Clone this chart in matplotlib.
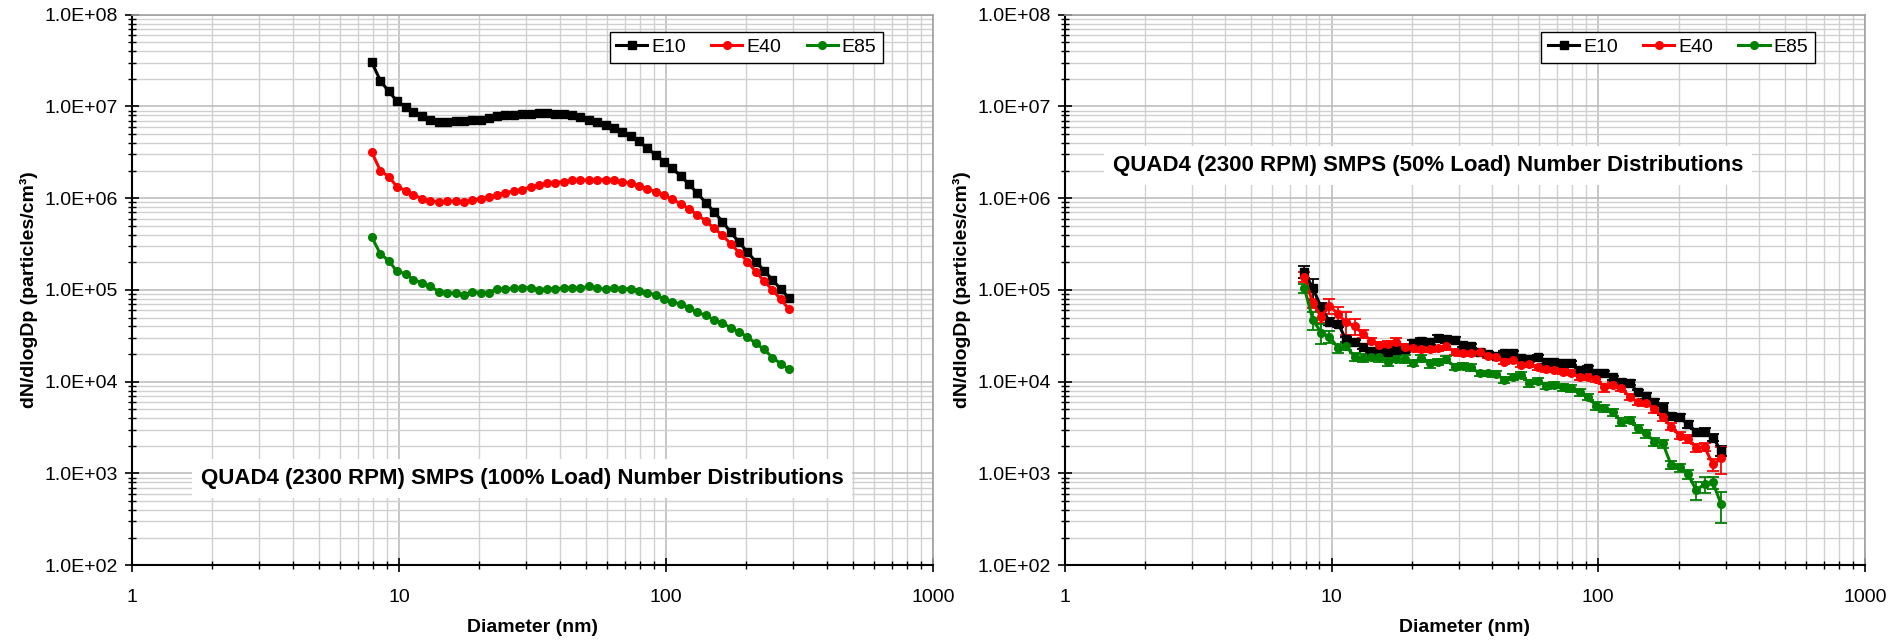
import matplotlib
matplotlib.use('Agg')
import matplotlib.pyplot as plt
from matplotlib.lines import Line2D
from matplotlib.ticker import FixedLocator, FuncFormatter, NullFormatter
import numpy as np

plt.rcParams['font.family'] = ['Liberation Sans', 'DejaVu Sans']

# SMPS channel midpoints (nm), 32 channels per decade
diam = [7.91, 8.51, 9.14, 9.82, 10.6, 11.3, 12.2, 13.1, 14.1, 15.1,
        16.3, 17.5, 18.8, 20.2, 21.7, 23.3, 25.0, 26.9, 28.9, 31.1,
        33.4, 35.9, 38.5, 41.4, 44.5, 47.8, 51.4, 55.2, 59.4, 63.8,
        68.5, 73.7, 79.1, 85.1, 91.4, 98.2, 105.5, 113.4, 121.9, 131.0,
        140.7, 151.2, 162.5, 174.7, 187.7, 201.7, 216.7, 232.9, 250.3, 269.0,
        289.0]

# 100% load
e10_full = [3.02e7, 1.91e7, 1.46e7, 1.15e7, 9.76e6, 8.6e6, 7.8e6, 7.15e6, 6.75e6, 6.8e6,
            6.92e6, 6.98e6, 7.04e6, 7.15e6, 7.46e6, 7.78e6, 7.98e6, 8.11e6, 8.25e6, 8.32e6,
            8.46e6, 8.39e6, 8.32e6, 8.18e6, 7.98e6, 7.65e6, 7.15e6, 6.69e6, 6.3e6, 5.85e6,
            5.29e6, 4.71e6, 4.15e6, 3.51e6, 2.97e6, 2.51e6, 2.12e6, 1.75e6, 1.42e6, 1.13e6,
            8.97e5, 7.1e5, 5.56e5, 4.25e5, 3.31e5, 2.58e5, 2.04e5, 1.62e5, 1.29e5, 1.02e5,
            8.1e4]
e40_full = [3.15e6, 2.0e6, 1.72e6, 1.34e6, 1.21e6, 1.09e6, 9.84e5, 9.35e5, 9.12e5, 9.27e5,
            9.27e5, 9.2e5, 9.5e5, 9.9e5, 1.04e6, 1.09e6, 1.15e6, 1.19e6, 1.24e6, 1.32e6,
            1.39e6, 1.46e6, 1.48e6, 1.52e6, 1.56e6, 1.57e6, 1.58e6, 1.58e6, 1.58e6, 1.56e6,
            1.52e6, 1.46e6, 1.37e6, 1.27e6, 1.18e6, 1.07e6, 9.75e5, 8.67e5, 7.65e5, 6.58e5,
            5.66e5, 4.71e5, 3.95e5, 3.18e5, 2.55e5, 2.04e5, 1.58e5, 1.25e5, 1.0e5, 7.9e4,
            6.15e4]
e85_full = [3.75e5, 2.47e5, 2.09e5, 1.59e5, 1.5e5, 1.29e5, 1.2e5, 1.09e5, 9.6e4, 9.35e4,
            9.2e4, 8.82e4, 9.5e4, 9.35e4, 9.35e4, 1.03e5, 1.02e5, 1.05e5, 1.06e5, 1.06e5,
            1.0e5, 1.03e5, 1.03e5, 1.05e5, 1.06e5, 1.05e5, 1.09e5, 1.04e5, 1.02e5, 1.06e5,
            1.03e5, 1.03e5, 9.84e4, 9.35e4, 8.82e4, 7.98e4, 7.46e4, 6.98e4, 6.41e4, 5.7e4,
            5.29e4, 4.71e4, 4.4e4, 3.85e4, 3.5e4, 3.06e4, 2.62e4, 2.25e4, 1.83e4, 1.57e4,
            1.36e4]

# 50% load
e10_half = [1.58e5, 1.04e5, 6.47e4, 4.52e4, 4.26e4, 2.9e4, 2.69e4, 2.41e4, 2.14e4, 2.12e4,
            2.09e4, 2.21e4, 2.25e4, 2.62e4, 2.8e4, 2.71e4, 2.97e4, 2.9e4, 2.85e4, 2.51e4,
            2.47e4, 2.12e4, 2.0e4, 1.92e4, 2.04e4, 2.07e4, 1.8e4, 1.75e4, 1.84e4, 1.65e4,
            1.65e4, 1.58e4, 1.58e4, 1.34e4, 1.4e4, 1.25e4, 1.23e4, 1.11e4, 1.0e4, 9.75e3,
            7.65e3, 6.98e3, 5.96e3, 5.12e3, 4.22e3, 4.08e3, 3.43e3, 2.8e3, 2.85e3, 2.45e3,
            1.77e3]
e40_half = [1.4e5, 7.16e4, 5.12e4, 6.69e4, 5.43e4, 4.44e4, 4.05e4, 3.31e4, 2.8e4, 2.51e4,
            2.58e4, 2.69e4, 2.41e4, 2.31e4, 2.27e4, 2.27e4, 2.31e4, 2.45e4, 2.12e4, 2.07e4,
            2.04e4, 2.12e4, 1.92e4, 1.87e4, 1.65e4, 1.72e4, 1.52e4, 1.55e4, 1.43e4, 1.37e4,
            1.34e4, 1.28e4, 1.25e4, 1.11e4, 1.13e4, 1.06e4, 8.67e3, 9.2e3, 8.46e3, 6.86e3,
            5.96e3, 5.9e3, 4.99e3, 4.08e3, 3.23e3, 2.58e3, 2.37e3, 1.91e3, 1.95e3, 1.25e3,
            1.46e3]
e85_half = [1.04e5, 4.71e4, 3.43e4, 3.1e4, 2.31e4, 2.45e4, 1.87e4, 1.8e4, 1.87e4, 1.84e4,
            1.65e4, 1.77e4, 1.77e4, 1.61e4, 1.8e4, 1.58e4, 1.65e4, 1.75e4, 1.46e4, 1.48e4,
            1.43e4, 1.23e4, 1.23e4, 1.21e4, 1.04e4, 1.13e4, 1.18e4, 9.6e3, 1.02e4, 9.04e3,
            9.2e3, 8.67e3, 8.46e3, 7.65e3, 6.86e3, 5.43e3, 5.12e3, 4.62e3, 3.66e3, 3.82e3,
            3.1e3, 2.73e3, 2.21e3, 2.12e3, 1.23e3, 1.16e3, 9.84e2, 6.58e2, 7.65e2, 7.98e2,
            4.59e2]

# relative standard deviation of the 50% load repeats
e10_half_rsd = [0.14, 0.25, 0.10, 0.08, 0.07, 0.06, 0.06, 0.06, 0.05, 0.05,
                0.05, 0.06, 0.06, 0.08, 0.08, 0.07, 0.08, 0.08, 0.07, 0.06,
                0.05, 0.05, 0.05, 0.05, 0.05, 0.05, 0.05, 0.05, 0.05, 0.05,
                0.05, 0.05, 0.05, 0.06, 0.05, 0.05, 0.05, 0.05, 0.06, 0.06,
                0.07, 0.07, 0.08, 0.15, 0.08, 0.08, 0.08, 0.08, 0.09, 0.09,
                0.12]
e40_half_rsd = [0.12, 0.12, 0.15, 0.18, 0.21, 0.28, 0.20, 0.10, 0.08, 0.08,
                0.08, 0.10, 0.08, 0.07, 0.08, 0.08, 0.07, 0.10, 0.08, 0.07,
                0.06, 0.06, 0.06, 0.06, 0.06, 0.06, 0.06, 0.06, 0.06, 0.06,
                0.06, 0.06, 0.06, 0.07, 0.06, 0.06, 0.10, 0.07, 0.07, 0.07,
                0.07, 0.07, 0.08, 0.08, 0.09, 0.09, 0.10, 0.10, 0.10, 0.15,
                0.32]
e85_half_rsd = [0.12, 0.23, 0.25, 0.15, 0.12, 0.10, 0.10, 0.10, 0.08, 0.10,
                0.10, 0.08, 0.10, 0.08, 0.08, 0.10, 0.08, 0.08, 0.08, 0.08,
                0.08, 0.07, 0.07, 0.07, 0.08, 0.07, 0.07, 0.08, 0.07, 0.08,
                0.08, 0.08, 0.08, 0.08, 0.08, 0.10, 0.08, 0.08, 0.10, 0.08,
                0.10, 0.10, 0.10, 0.10, 0.10, 0.10, 0.12, 0.22, 0.20, 0.15,
                0.37]

labels = ['E10', 'E40', 'E85']
colors = ['black', 'red', '#008000']
markers = ['s', 'o', 'o']
msizes = [6, 5.5, 5.5]

x_major = [1, 10, 100, 1000]
y_major = [1e2, 1e3, 1e4, 1e5, 1e6, 1e7, 1e8]

titles = ['QUAD4 (2300 RPM) SMPS (100% Load) Number Distributions',
          'QUAD4 (2300 RPM) SMPS (50% Load) Number Distributions']
title_pos = [(0.487, 0.157), (0.454, 0.726)]

fig = plt.figure(figsize=(19.03, 6.4), dpi=100)
ax1 = fig.add_axes([0.0694, 0.117, 0.4209, 0.860])
ax2 = fig.add_axes([0.5596, 0.117, 0.4204, 0.860])


def minor_ticks(majors):
    # 2..9 times each decade, inside the axis range
    return [m * k for m in majors[:-1] for k in range(2, 10)]


def style_axes(ax):
    ax.set_xscale('log')
    ax.set_yscale('log')
    ax.set_xlim(1, 1000)
    ax.set_ylim(1e2, 1e8)
    ax.xaxis.set_major_locator(FixedLocator(x_major))
    ax.xaxis.set_minor_locator(FixedLocator(minor_ticks(x_major)))
    ax.yaxis.set_major_locator(FixedLocator(y_major))
    ax.yaxis.set_minor_locator(FixedLocator(minor_ticks(y_major)))
    ax.xaxis.set_major_formatter(FuncFormatter(lambda v, p: '%g' % v))
    ax.yaxis.set_major_formatter(FuncFormatter(lambda v, p: '%.1E' % v))
    ax.xaxis.set_minor_formatter(NullFormatter())
    ax.yaxis.set_minor_formatter(NullFormatter())
    ax.grid(which='major', color='#b8b8b8', linewidth=1.1)
    ax.grid(which='minor', color='#d0d0d0', linewidth=1.0)
    ax.set_axisbelow(True)
    for s in ['left', 'bottom']:
        ax.spines[s].set_color('black')
        ax.spines[s].set_linewidth(1.5)
    for s in ['top', 'right']:
        ax.spines[s].set_color('#a0a0a0')
        ax.spines[s].set_linewidth(1.2)
    ax.tick_params(which='major', direction='inout', length=10, width=1.2, labelsize=14)
    ax.tick_params(which='minor', direction='inout', length=6, width=1.0)
    ax.tick_params(axis='x', which='both', pad=12)
    ax.tick_params(axis='y', which='both', pad=5)
    ax.set_xlabel('Diameter (nm)', fontsize=14, fontweight='bold')
    ax.set_ylabel('dN/dlogDp (particles/cm³)', fontsize=14, fontweight='bold')
    ax.xaxis.set_label_coords(0.5, -0.098)
    ax.yaxis.set_label_coords(-0.118, 0.5)


# 100% load panel
for vals, lab, c, m, ms in zip([e10_full, e40_full, e85_full], labels, colors, markers, msizes):
    ax1.plot(diam, vals, color=c, marker=m, markersize=ms, linewidth=2.2, label=lab)

# 50% load panel, with error bars
for vals, rsd, lab, c, m, ms in zip([e10_half, e40_half, e85_half],
                                    [e10_half_rsd, e40_half_rsd, e85_half_rsd],
                                    labels, colors, markers, msizes):
    err = np.array(vals) * np.array(rsd)
    ax2.errorbar(diam, vals, yerr=err, color=c, marker=m, markersize=ms,
                 linewidth=2.2, elinewidth=1.3, capsize=4, capthick=1.3, label=lab)

handles = [Line2D([], [], color=c, marker=m, markersize=ms, linewidth=2.2)
           for c, m, ms in zip(colors, markers, msizes)]

for ax, t, (tx, ty) in zip([ax1, ax2], titles, title_pos):
    style_axes(ax)
    ax.text(tx, ty, t, transform=ax.transAxes, ha='center', va='center',
            fontsize=16, fontweight='bold',
            bbox=dict(boxstyle='square,pad=0.4', fc='white', ec='none'))
    leg = ax.legend(handles, labels, ncol=3, loc='upper right',
                    bbox_to_anchor=(0.9376, 0.969), borderaxespad=0,
                    fontsize=14, frameon=True, fancybox=False, framealpha=1,
                    edgecolor='black', handlelength=1.6, handletextpad=0.2,
                    columnspacing=1.3, borderpad=0.35)
    leg.get_frame().set_linewidth(1.0)

fig.savefig('out.png', dpi=100)
